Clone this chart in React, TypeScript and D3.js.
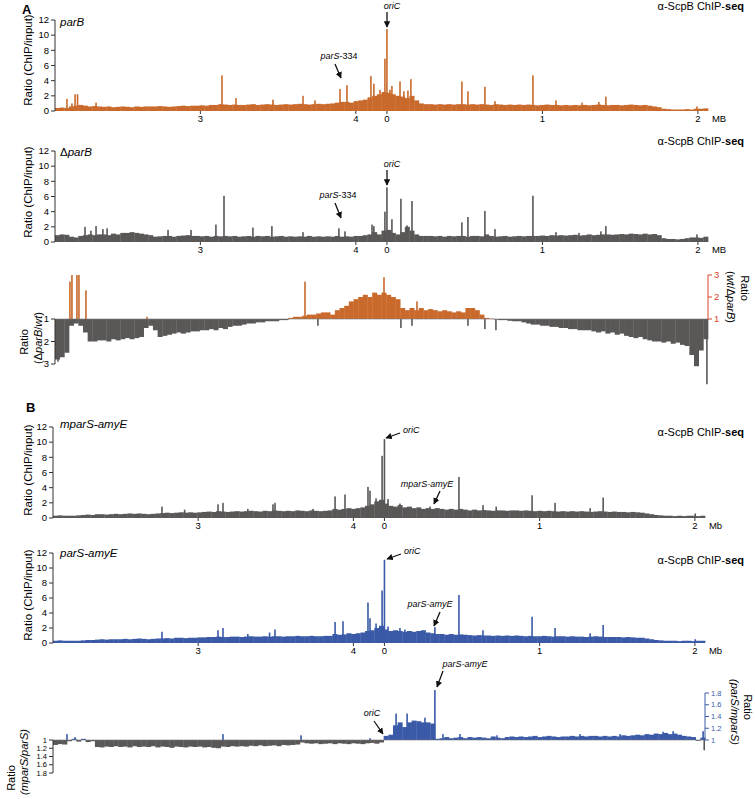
import React from 'react';
import * as d3 from 'd3';

// ---------- shared axis data ----------
const GENOME_MB = 4.2;
const DOMAIN: [number, number] = [-2.135, 2.065]; // position relative to oriC (Mb)
const BIN_MB = 0.03;
const TICK_GENOME = [3, 4, 0, 1, 2];
const TICK_LABELS = ['3', '4', '0', '1', '2'];
const CHIP_TICKS = [0, 2, 4, 6, 8, 10, 12];
const RATIO_A_TICKS = [1, 2, 3];
const RATIO_B_TICKS = [1, 1.2, 1.4, 1.6, 1.8];

// ---------- A: parB (ChIP/input) ----------
const parBBase = [
  0.4, 0.45, 0.4, 0.6, 0.7, 0.8, 0.7, 0.6, 0.65, 0.6,
  0.55, 0.6, 0.5, 0.55, 0.6, 0.55, 0.5, 0.6, 0.55, 0.6,
  0.6, 0.6, 0.65, 0.6, 0.55, 0.6, 0.65, 0.7, 0.65, 0.7,
  0.7, 0.75, 0.7, 0.8, 0.8, 0.9, 0.85, 0.8, 0.85, 0.8,
  0.8, 0.85, 0.9, 0.8, 0.85, 0.9, 0.85, 0.8, 0.85, 0.9,
  0.85, 0.9, 0.95, 0.9, 0.85, 0.9, 0.95, 0.9, 0.95, 1.0,
  1.1, 1.2, 1.2, 1.1, 1.3, 1.4, 1.5, 1.8, 2.0, 2.2,
  2.5, 2.4, 2.2, 2.0, 1.9, 1.7, 2.0, 1.4, 1.0, 0.9,
  0.9, 0.85, 0.9, 0.85, 0.9, 0.85, 0.9, 0.9, 0.85, 0.9,
  0.85, 0.9, 0.85, 0.8, 0.9, 0.85, 0.8, 0.85, 0.8, 0.85,
  0.8, 0.85, 0.8, 0.75, 0.8, 0.85, 0.8, 0.8, 0.75, 0.8,
  0.75, 0.8, 0.75, 0.8, 0.75, 0.8, 0.85, 0.8, 0.75, 0.8,
  0.8, 0.75, 0.8, 0.85, 0.8, 0.75, 0.8, 0.7, 0.6, 0.5,
  0.3, 0.25, 0.2, 0.2, 0.2, 0.25, 0.2, 0.3, 0.3, 0.35,
];
const parBPeakPos = [2.142, 2.174, 2.194, 2.21, 2.329, 3.139, 3.229, 3.467, 3.66, 3.737, 3.898, 3.943, 4.097, 4.116, 4.155, 4.187, 0.0, 0.019, 0.032, 0.084, 0.109, 0.135, 0.154, 0.482, 0.521, 0.63, 0.695, 0.939, 1.087, 1.254, 1.363, 1.408, 1.994];
const parBPeakVal = [1.6, 1.0, 2.2, 2.2, 1.1, 4.7, 1.7, 1.5, 2.0, 1.4, 2.9, 3.4, 4.6, 3.6, 2.8, 6.9, 10.8, 2.8, 3.3, 3.9, 2.6, 2.7, 4.2, 3.9, 2.6, 3.2, 1.3, 4.7, 1.4, 1.1, 1.2, 1.9, 0.6];

// ---------- A: ΔparB (ChIP/input) ----------
const dParBBase = [
  0.9, 1.0, 0.95, 0.7, 0.6, 0.8, 0.9, 1.0, 0.9, 1.0,
  1.0, 0.9, 1.1, 1.0, 1.2, 1.2, 1.3, 1.2, 1.1, 1.0,
  0.9, 0.7, 0.75, 0.8, 0.8, 0.7, 0.8, 0.85, 0.9, 0.8,
  0.8, 0.75, 0.8, 0.7, 0.8, 0.75, 0.8, 0.75, 0.8, 0.7,
  0.75, 0.8, 0.7, 0.8, 0.75, 0.8, 0.7, 0.75, 0.8, 0.7,
  0.75, 0.7, 0.75, 0.7, 0.8, 0.7, 0.75, 0.7, 0.75, 0.7,
  0.8, 0.7, 0.75, 0.7, 0.8, 0.8, 0.9, 1.0, 1.3, 1.0,
  1.5, 1.6, 1.2, 1.0, 1.3, 2.0, 1.5, 1.0, 0.8, 0.8,
  0.8, 0.75, 0.8, 0.7, 0.8, 0.75, 0.8, 0.8, 0.7, 0.8,
  0.8, 0.75, 1.0, 0.8, 0.7, 0.75, 0.8, 0.7, 0.75, 0.8,
  0.75, 0.8, 0.8, 0.8, 0.85, 0.8, 0.9, 0.85, 0.9, 0.85,
  0.9, 0.95, 0.85, 0.9, 1.0, 0.9, 0.95, 1.0, 1.0, 0.95,
  1.0, 1.05, 1.0, 1.1, 1.05, 1.0, 1.1, 1.0, 1.05, 0.9,
  0.5, 0.4, 0.4, 0.35, 0.4, 0.5, 0.6, 0.6, 0.55, 0.7,
];
const dParBPeakPos = [2.258, 2.296, 2.329, 2.373, 2.4, 2.792, 2.94, 3.1, 3.152, 3.338, 3.46, 3.66, 3.891, 3.93, 4.104, 4.116, 4.187, 0.0, 0.032, 0.09, 0.129, 0.161, 0.482, 0.521, 0.63, 0.695, 0.939, 1.087, 1.235, 1.376, 1.408, 1.994];
const dParBPeakVal = [2.0, 1.5, 2.1, 1.7, 1.8, 1.6, 1.6, 2.3, 6.1, 1.9, 2.1, 1.3, 1.8, 1.4, 2.3, 2.1, 4.0, 7.2, 3.0, 5.7, 2.2, 5.4, 2.6, 3.3, 4.1, 1.7, 6.1, 1.3, 1.2, 1.4, 2.1, 1.0];

// ---------- A: ratio (positive: wt/ΔparB - 1, negative: ΔparB/wt - 1) ----------
const ratioABase = [
  -1.8, -1.7, -1.5, -0.3, -0.2, -0.3, -0.6, -1.0, -1.0, -0.95,
  -0.95, -1.0, -0.9, -0.95, -0.9, -0.85, -0.9, -0.85, -0.8, -0.4,
  -0.3, -0.5, -0.8, -0.75, -0.7, -0.65, -0.6, -0.65, -0.6, -0.55,
  -0.55, -0.5, -0.5, -0.45, -0.5, -0.4, -0.45, -0.35, -0.3, -0.3,
  -0.25, -0.2, -0.2, -0.15, -0.15, -0.1, -0.1, -0.1, -0.05, -0.05,
  0.05, 0.1, 0.1, 0.15, 0.2, 0.2, 0.25, 0.3, 0.3, 0.2,
  0.4, 0.5, 0.6, 0.8, 0.9, 1.0, 1.1, 1.0, 1.2, 1.1,
  1.2, 1.1, 1.0, 0.9, 0.5, 0.4, 0.5, 0.4, 0.5, 0.4,
  0.45, 0.4, 0.35, 0.4, 0.35, 0.3, 0.35, 0.3, 0.5, 0.5,
  0.4, 0.2, 0.05, 0.02, -0.02, -0.05, -0.05, -0.08, -0.1, -0.1,
  -0.15, -0.2, -0.25, -0.25, -0.3, -0.3, -0.35, -0.35, -0.4, -0.4,
  -0.45, -0.45, -0.5, -0.5, -0.5, -0.55, -0.6, -0.55, -0.65, -0.6,
  -0.7, -0.65, -0.75, -0.8, -0.85, -0.8, -0.9, -0.95, -1.0, -1.0,
  -1.05, -1.0, -1.1, -1.05, -1.15, -1.2, -1.6, -2.1, -1.4, -0.9,
];
const ratioAPeakPos = [2.084, 2.161, 2.174, 2.206, 2.219, 2.264, 2.657, 3.673, 3.756, 4.181, 0.09, 0.161, 0.193, 0.521, 0.63, 0.701, 2.058];
const ratioAPeakVal = [-1.9, 1.7, 2.0, 2.0, 2.0, 1.3, 0.1, 1.7, -0.3, 1.9, -0.4, -0.3, 0.8, -0.3, -0.45, -0.5, -2.9];

// ---------- B: mparS-amyE (ChIP/input) ----------
const mparSBase = [
  0.3, 0.35, 0.3, 0.3, 0.3, 0.35, 0.4, 0.45, 0.4, 0.5,
  0.5, 0.45, 0.5, 0.55, 0.5, 0.55, 0.6, 0.55, 0.6, 0.55,
  0.5, 0.55, 0.6, 0.65, 0.7, 0.65, 0.7, 0.75, 0.7, 0.75,
  0.7, 0.75, 0.8, 0.85, 0.8, 0.9, 0.85, 0.8, 0.85, 0.9,
  0.85, 0.9, 0.95, 0.9, 0.85, 0.95, 0.9, 1.0, 0.95, 0.9,
  0.95, 0.9, 1.0, 0.95, 0.9, 1.0, 0.95, 0.9, 0.95, 1.0,
  1.2, 1.1, 1.2, 1.3, 1.2, 1.3, 1.4, 1.6, 1.8, 2.2,
  2.4, 1.9, 1.6, 1.5, 1.7, 1.4, 1.5, 1.3, 1.4, 1.2,
  1.3, 1.2, 1.3, 1.2, 1.1, 1.2, 1.1, 1.2, 1.1, 1.0,
  1.1, 1.0, 1.05, 1.0, 0.95, 1.0, 1.0, 0.95, 1.0, 1.0,
  0.95, 1.0, 0.95, 0.9, 0.95, 0.9, 0.95, 0.9, 0.85, 0.9,
  0.85, 0.9, 0.85, 0.9, 0.85, 0.8, 0.85, 0.9, 0.85, 0.8,
  0.85, 0.8, 0.8, 0.75, 0.8, 0.75, 0.7, 0.6, 0.5, 0.4,
  0.35, 0.3, 0.3, 0.25, 0.3, 0.25, 0.3, 0.3, 0.25, 0.3,
];
const mparSPeakPos = [2.767, 2.913, 3.128, 3.16, 3.32, 3.482, 3.495, 3.74, 3.882, 3.946, 4.094, 4.107, 4.146, 4.172, 4.185, 0.0, 0.023, 0.1, 0.294, 0.48, 0.635, 0.72, 0.951, 1.099, 1.325, 1.409, 2.002];
const mparSPeakVal = [1.5, 1.1, 1.8, 2.0, 1.2, 1.8, 2.0, 1.2, 2.85, 3.1, 4.1, 3.6, 2.6, 2.0, 8.2, 10.4, 2.5, 1.9, 1.5, 5.4, 1.7, 1.5, 3.0, 2.0, 1.3, 2.7, 0.6];

// ---------- B: parS-amyE (ChIP/input) ----------
const parSBase = [
  0.3, 0.35, 0.3, 0.3, 0.3, 0.3, 0.35, 0.4, 0.4, 0.45,
  0.5, 0.45, 0.5, 0.5, 0.5, 0.55, 0.5, 0.55, 0.6, 0.55,
  0.5, 0.55, 0.6, 0.6, 0.65, 0.6, 0.7, 0.7, 0.65, 0.7,
  0.7, 0.75, 0.75, 0.8, 0.8, 0.85, 0.8, 0.8, 0.85, 0.85,
  0.8, 0.85, 0.9, 0.85, 0.85, 0.9, 0.85, 0.9, 0.9, 0.85,
  0.9, 0.9, 0.95, 0.9, 0.9, 0.95, 0.9, 0.9, 0.95, 0.95,
  1.2, 1.1, 1.15, 1.3, 1.2, 1.3, 1.4, 1.6, 1.7, 2.0,
  2.3, 1.8, 1.6, 1.7, 1.6, 1.5, 1.6, 1.5, 1.6, 1.7,
  1.4, 1.3, 1.2, 1.2, 1.1, 1.2, 1.1, 1.15, 1.1, 1.05,
  1.0, 1.05, 1.0, 1.0, 0.95, 1.0, 0.95, 1.0, 0.95, 1.0,
  0.95, 0.9, 0.95, 0.9, 0.9, 0.95, 0.9, 0.85, 0.9, 0.9,
  0.85, 0.9, 0.85, 0.85, 0.8, 0.85, 0.9, 0.85, 0.8, 0.8,
  0.8, 0.8, 0.75, 0.8, 0.75, 0.7, 0.7, 0.6, 0.5, 0.4,
  0.35, 0.3, 0.3, 0.3, 0.25, 0.3, 0.3, 0.25, 0.3, 0.3,
];
const parSPeakPos = [2.767, 3.128, 3.16, 3.32, 3.46, 3.495, 3.882, 3.933, 4.094, 4.107, 4.146, 4.185, 0.0, 0.023, 0.1, 0.132, 0.325, 0.48, 0.635, 0.951, 1.099, 1.325, 1.409, 2.002];
const parSPeakVal = [1.5, 1.7, 2.0, 1.2, 1.4, 1.8, 2.8, 2.9, 5.4, 3.3, 2.6, 7.0, 11.1, 2.2, 2.0, 1.8, 2.1, 6.4, 1.7, 3.5, 2.0, 1.3, 2.4, 0.5];

// ---------- B: ratio (positive: parS/mparS - 1, negative: mparS/parS - 1) ----------
const ratioBBase = [
  -0.12, -0.1, -0.11, -0.03, 0.02, -0.04, 0.02, -0.05, -0.03, -0.17,
  -0.18, -0.16, -0.17, -0.15, -0.17, -0.16, -0.18, -0.15, -0.17, -0.16,
  -0.17, -0.15, -0.18, -0.16, -0.17, -0.19, -0.16, -0.17, -0.18, -0.16,
  -0.17, -0.16, -0.18, -0.17, -0.19, -0.2, -0.16, -0.17, -0.15, -0.16,
  -0.15, -0.16, -0.14, -0.15, -0.13, -0.15, -0.14, -0.13, -0.15, -0.12,
  -0.13, -0.12, -0.11, -0.06, -0.08, -0.09, -0.08, -0.1, -0.09, -0.08,
  -0.1, -0.08, -0.09, -0.1, -0.08, -0.09, -0.1, -0.08, -0.07, -0.09,
  -0.06, 0.07, 0.09, 0.25, 0.3, 0.22, 0.3, 0.33, 0.32, 0.3,
  0.3, 0.28, 0.02, 0.03, 0.05, 0.03, 0.04, 0.05, 0.03, 0.05,
  0.04, 0.05, 0.04, 0.03, 0.06, 0.04, 0.03, 0.05, 0.06, 0.05,
  0.06, 0.05, 0.06, 0.07, 0.05, 0.06, 0.07, 0.06, 0.05, 0.06,
  0.06, 0.07, 0.06, 0.07, 0.06, 0.07, 0.07, 0.06, 0.07, 0.06,
  0.07, 0.06, 0.08, 0.07, 0.08, 0.09, 0.08, 0.1, 0.09, 0.11,
  0.1, 0.12, 0.1, 0.11, 0.09, 0.07, 0.06, 0.05, -0.02, 0.04,
];
const ratioBPeakPos = [2.155, 2.207, 3.16, 3.663, 4.107, 0.075, 0.146, 0.261, 0.325, 0.377, 0.487, 0.725, 1.26, 1.518, 1.795, 1.86, 2.053, 2.06];
const ratioBPeakVal = [0.1, 0.05, 0.1, 0.08, 0.03, 0.45, 0.45, 0.38, 0.85, 0.1, 0.1, 0.08, 0.1, 0.1, 0.14, 0.15, 0.15, -0.25];

// ---------- styling ----------
const FONT = "'Liberation Sans', Arial, Helvetica, sans-serif";
const ORANGE = '#c96a2c';
const GRAY = '#5a5757';
const BLUE = '#3a5aa8';
const RED = '#d8432b';
const AXIS = '#333';

const toRel = (g: number) => (g > DOMAIN[1] ? g - GENOME_MB : g);

type Bars = { base: number[]; peakPos: number[]; peakVal: number[] };

function ChipTrack({ xr, y0, y12, data, color, unit, name, nameY, titleY, labelY }: any) {
  const x = d3.scaleLinear().domain(DOMAIN).range(xr);
  const y = d3.scaleLinear().domain([0, 12]).range([y0, y12]);
  const d: Bars = data;
  return (
    <g>
      {d.base.map((v, i) => {
        const a = x(DOMAIN[0] + i * BIN_MB);
        const b = x(DOMAIN[0] + (i + 1) * BIN_MB);
        return <rect key={'b' + i} x={a} width={b - a + 0.35} y={y(v)} height={y0 - y(v)} fill={color} />;
      })}
      {d.peakPos.map((p, i) => (
        <rect key={'p' + i} x={x(toRel(p)) - 0.8} width={1.6} y={y(d.peakVal[i])} height={y0 - y(d.peakVal[i])} fill={color} />
      ))}
      <line x1={xr[0]} x2={xr[0]} y1={y0} y2={y12} stroke={AXIS} strokeWidth={1} />
      {CHIP_TICKS.map((t) => (
        <g key={'t' + t}>
          <line x1={xr[0] - 4} x2={xr[0]} y1={y(t)} y2={y(t)} stroke={AXIS} />
          <text x={xr[0] - 6} y={y(t)} dy="0.35em" textAnchor="end" fontSize={9.5}>{t}</text>
        </g>
      ))}
      {TICK_GENOME.map((g, i) => (
        <g key={'x' + i}>
          <line x1={x(toRel(g))} x2={x(toRel(g))} y1={y0} y2={y0 + 3} stroke={AXIS} />
          <text x={x(toRel(g))} y={y0 + 11} textAnchor="middle" fontSize={9.5}>{TICK_LABELS[i]}</text>
        </g>
      ))}
      <text x={x(2) + 14} y={y0 + 11} fontSize={9.5}>{unit}</text>
      <text x={28} y={labelY} dy="0.35em" transform={`rotate(-90 28 ${labelY})`} textAnchor="middle" fontSize={11.5}>Ratio (ChIP/input)</text>
      <text x={60} y={nameY} fontSize={11.5}>{name}</text>
      <text x={744} y={titleY} textAnchor="end" fontSize={11}>α-ScpB ChIP-<tspan fontWeight="bold">seq</tspan></text>
    </g>
  );
}

function RatioTrack({ xr, base0, upMax, upTop, downMax, downBottom, data, upColor, axisColor, upTicks, downTicks, tickFont }: any) {
  const x = d3.scaleLinear().domain(DOMAIN).range(xr);
  const yu = d3.scaleLinear().domain([1, upMax]).range([base0, upTop]);
  const yd = d3.scaleLinear().domain([1, downMax]).range([base0, downBottom]);
  const d: Bars = data;
  const bar = (a: number, w: number, v: number, key: string) => {
    if (v >= 0) {
      const top = yu(1 + v);
      return <rect key={key} x={a} width={w} y={top} height={base0 - top} fill={upColor} />;
    }
    const bot = yd(1 - v);
    return <rect key={key} x={a} width={w} y={base0} height={bot - base0} fill={GRAY} />;
  };
  return (
    <g>
      {d.base.map((v, i) => {
        const a = x(DOMAIN[0] + i * BIN_MB);
        const b = x(DOMAIN[0] + (i + 1) * BIN_MB);
        return bar(a, b - a + 0.35, v, 'b' + i);
      })}
      {d.peakPos.map((p, i) => bar(x(toRel(p)) - 0.8, 1.6, d.peakVal[i], 'p' + i))}
      <line x1={xr[0]} x2={xr[1]} y1={base0} y2={base0} stroke="#777" strokeWidth={0.6} />
      {/* left (down) axis */}
      <line x1={xr[0]} x2={xr[0]} y1={base0} y2={downBottom} stroke={AXIS} />
      {downTicks.map((t: number) => (
        <g key={'d' + t}>
          <line x1={xr[0] - 4} x2={xr[0]} y1={yd(t)} y2={yd(t)} stroke={AXIS} />
          <text x={xr[0] - 6} y={yd(t)} dy="0.35em" textAnchor="end" fontSize={tickFont}>{t}</text>
        </g>
      ))}
      {/* right (up) axis */}
      <line x1={xr[1]} x2={xr[1]} y1={base0} y2={upTop} stroke={axisColor} />
      {upTicks.map((t: number) => (
        <g key={'u' + t}>
          <line x1={xr[1]} x2={xr[1] + 4} y1={yu(t)} y2={yu(t)} stroke={axisColor} />
          <text x={xr[1] + 6} y={yu(t)} dy="0.35em" textAnchor="start" fontSize={tickFont} fill={axisColor}>{t}</text>
        </g>
      ))}
    </g>
  );
}

function Arrow({ x1, y1, x2, y2 }: any) {
  return <line x1={x1} y1={y1} x2={x2} y2={y2} stroke="#111" strokeWidth={1.3} markerEnd="url(#ah)" />;
}

export default function App() {
  const xrA: [number, number] = [55, 708];
  const xrB: [number, number] = [53, 705];
  return (
    <svg width={755} height={799} style={{ position: 'absolute', left: 0, top: 0, background: '#fff' }} fontFamily={FONT}>
      <defs>
        <marker id="ah" viewBox="0 0 10 10" refX="9" refY="5" markerWidth="5" markerHeight="5" orient="auto-start-reverse">
          <path d="M0,0 L10,5 L0,10 z" fill="#111" />
        </marker>
      </defs>
      <rect x={0} y={0} width={755} height={799} fill="#fff" />

      <text x={22} y={14} fontSize={13} fontWeight="bold">A</text>
      <text x={26} y={412} fontSize={13} fontWeight="bold">B</text>

      <ChipTrack xr={xrA} y0={111} y12={20} color={ORANGE} unit="MB"
        data={{ base: parBBase, peakPos: parBPeakPos, peakVal: parBPeakVal }}
        name={<tspan fontStyle="italic">parB</tspan>} nameY={26} titleY={10} labelY={60} />
      <ChipTrack xr={xrA} y0={242} y12={151} color={GRAY} unit="MB"
        data={{ base: dParBBase, peakPos: dParBPeakPos, peakVal: dParBPeakVal }}
        name={<><tspan>Δ</tspan><tspan fontStyle="italic">parB</tspan></>} nameY={156} titleY={145} labelY={192} />
      <RatioTrack xr={xrA} base0={319} upMax={3} upTop={275} downMax={3} downBottom={364}
        data={{ base: ratioABase, peakPos: ratioAPeakPos, peakVal: ratioAPeakVal }}
        upColor={ORANGE} axisColor={RED} upTicks={RATIO_A_TICKS} downTicks={RATIO_A_TICKS} tickFont={9.5} />

      <ChipTrack xr={xrB} y0={518} y12={427} color={GRAY} unit="Mb"
        data={{ base: mparSBase, peakPos: mparSPeakPos, peakVal: mparSPeakVal }}
        name={<tspan fontStyle="italic">mparS-amyE</tspan>} nameY={428} titleY={436} labelY={470} />
      <ChipTrack xr={xrB} y0={643} y12={553} color={BLUE} unit="Mb"
        data={{ base: parSBase, peakPos: parSPeakPos, peakVal: parSPeakVal }}
        name={<tspan fontStyle="italic">parS-amyE</tspan>} nameY={557} titleY={564} labelY={595} />
      <RatioTrack xr={xrB} base0={740} upMax={1.8} upTop={693} downMax={1.8} downBottom={773}
        data={{ base: ratioBBase, peakPos: ratioBPeakPos, peakVal: ratioBPeakVal }}
        upColor={BLUE} axisColor={BLUE} upTicks={RATIO_B_TICKS} downTicks={RATIO_B_TICKS} tickFont={7.5} />

      {/* ratio axis titles */}
      <g fontSize={11}>
        <text x={24} y={342} dy="0.35em" textAnchor="middle" transform="rotate(-90 24 342)">Ratio</text>
        <text x={38} y={338} dy="0.35em" textAnchor="middle" transform="rotate(-90 38 338)">(<tspan>Δ</tspan><tspan fontStyle="italic">parB</tspan>/<tspan fontStyle="italic">wt</tspan>)</text>
        <text x={745} y={288} dy="0.35em" textAnchor="middle" transform="rotate(90 745 288)">Ratio</text>
        <text x={731} y={297} dy="0.35em" textAnchor="middle" transform="rotate(90 731 297)">(<tspan fontStyle="italic">wt</tspan>/<tspan>Δ</tspan><tspan fontStyle="italic">parB</tspan>)</text>

        <text x={11} y={778} dy="0.35em" textAnchor="middle" transform="rotate(-90 11 778)">Ratio</text>
        <text x={24} y={762} dy="0.35em" textAnchor="middle" transform="rotate(-90 24 762)" fontStyle="italic">(mparS/parS)</text>
        <text x={748} y={707} dy="0.35em" textAnchor="middle" transform="rotate(90 748 707)">Ratio</text>
        <text x={735} y={712} dy="0.35em" textAnchor="middle" transform="rotate(90 735 712)" fontStyle="italic">(parS/mparS)</text>
      </g>

      {/* annotations */}
      <g fontSize={9} fontStyle="italic">
        <text x={392} y={9} textAnchor="middle">oriC</text>
        <Arrow x1={387} y1={12} x2={387} y2={27} />
        <text x={339} y={59} textAnchor="middle"><tspan>parS</tspan><tspan fontStyle="normal">-334</tspan></text>
        <Arrow x1={335} y1={64} x2={341} y2={78} />

        <text x={392} y={167} textAnchor="middle">oriC</text>
        <Arrow x1={387} y1={170} x2={387} y2={185} />
        <text x={338} y={198} textAnchor="middle"><tspan>parS</tspan><tspan fontStyle="normal">-334</tspan></text>
        <Arrow x1={335} y1={203} x2={341} y2={218} />

        <text x={403} y={433}>oriC</text>
        <Arrow x1={400} y1={433} x2={386} y2={438} />
        <text x={427} y={487} textAnchor="middle">mparS-amyE</text>
        <Arrow x1={440} y1={491} x2={434} y2={504} />

        <text x={404} y={554}>oriC</text>
        <Arrow x1={401} y1={554} x2={387} y2={559} />
        <text x={430} y={607} textAnchor="middle">parS-amyE</text>
        <Arrow x1={440} y1={612} x2={434} y2={626} />

        <text x={465} y={667} textAnchor="middle">parS-amyE</text>
        <Arrow x1={443} y1={671} x2={437} y2={687} />
        <text x={372} y={716} textAnchor="middle">oriC</text>
        <Arrow x1={374} y1={721} x2={383} y2={734} />
      </g>
    </svg>
  );
}
